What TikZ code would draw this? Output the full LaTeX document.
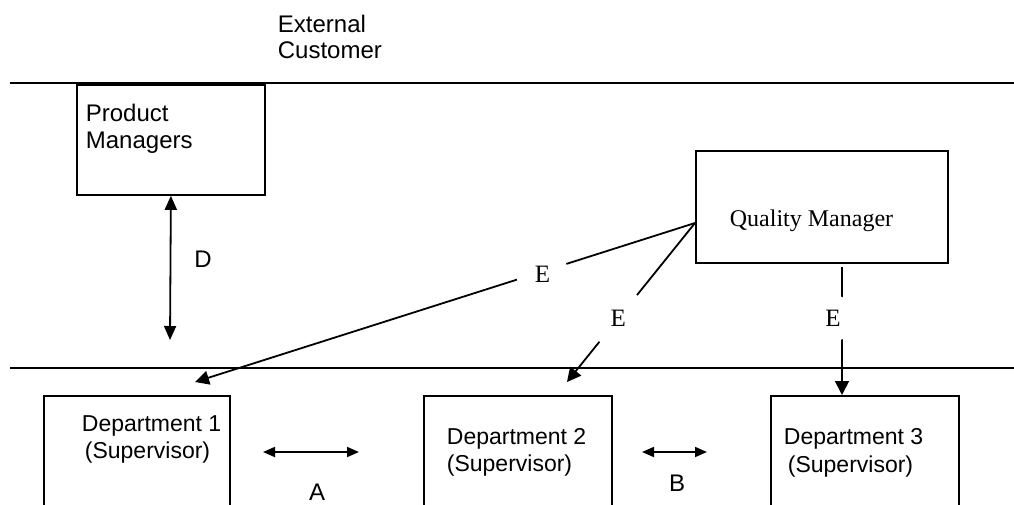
\documentclass[tikz,border=0pt]{standalone}
\usepackage{fontspec}
\setmainfont{Liberation Sans}
\newfontfamily\serifface{Liberation Serif}
\usetikzlibrary{arrows.meta}

\begin{document}
\begin{tikzpicture}[x=1pt,y=-1pt,line width=1.8pt,
  box/.style={draw,line width=1.8pt,anchor=north west,inner sep=0pt},
  txt/.style={anchor=base west,inner sep=0pt,font=\fontsize{24}{28}\selectfont},
  dtxt/.style={anchor=base west,inner sep=0pt,font=\fontsize{23}{27}\selectfont},
  stxt/.style={anchor=base,inner sep=0pt,font=\fontsize{24}{28}\selectfont},
  etxt/.style={circle,fill=white,inner sep=0pt,font=\serifface\fontsize{25}{28}\selectfont},
  bigtip/.style={-{Triangle[length=14pt,width=14pt]}},
  dbltip/.style={{Triangle[length=14pt,width=12pt]}-{Triangle[length=14pt,width=12pt]}},
  smalltip/.style={{Triangle[length=12pt,width=10pt]}-{Triangle[length=12pt,width=10pt]}}]

\path[use as bounding box] (0,0) rectangle (1014,504);
\clip (0,0) rectangle (1014,504);

% level separators
\coordinate (topL) at (10,83);
\coordinate (topR) at (1014,83);
\coordinate (botL) at (10,368);
\coordinate (botR) at (1014,368);
\draw (topL) -- (topR);
\draw (botL) -- (botR);

% external customer
\node[txt] (ext1) at (277,32) {External};
\node[txt] (ext2) at (277,58) {Customer};

% product managers
\node[box,minimum width=188pt,minimum height=110pt] (pm) at (76,84) {};
\node[txt] (pm1) at (85,121) {Product};
\node[txt] (pm2) at (85,148) {Managers};

% quality manager
\node[box,minimum width=252pt,minimum height=112pt] (qm) at (695,150) {};
\node[anchor=base west,inner sep=0pt,font=\serifface\fontsize{24}{28}\selectfont] (qmt) at (729,226) {Quality Manager};

% departments
\node[box,minimum width=186pt,minimum height=140pt] (d1) at (43,395) {};
\node[box,minimum width=188pt,minimum height=140pt] (d2) at (423,395) {};
\node[box,minimum width=188pt,minimum height=140pt] (d3) at (770,395) {};
\node[dtxt] (d1a) at (81,431) {Department 1};
\node[dtxt] (d1b) at (84,458) {(Supervisor)};
\node[dtxt] (d2a) at (446,444) {Department 2};
\node[dtxt] (d2b) at (446,471) {(Supervisor)};
\node[dtxt] (d3a) at (783,444) {Department 3};
\node[dtxt] (d3b) at (787,472) {(Supervisor)};

% D: product managers <-> departments
\coordinate (dEnd) at (170,340);
\draw[dbltip] (pm.south) -- (dEnd);
\node[stxt] (dlab) at (203,267) {D};

% E: quality manager -> departments
\coordinate (qmport) at (695,223);
\coordinate (e1tip) at (195,382);
\coordinate (e2tip) at (567,382);
\coordinate (e3start) at (842,267);
\draw[bigtip] (qmport) -- node[etxt,pos=0.305,minimum size=52pt,yshift=-3pt] (e1) {E} (e1tip);
\draw[bigtip] (qmport) -- node[etxt,pos=0.60,minimum size=60pt] (e2) {E} (e2tip);
\draw[bigtip] (e3start) -- node[etxt,pos=0.40,minimum size=46pt,xshift=-9pt] (e3) {E} (e3start |- d3.north);

% A and B: between departments
\coordinate (aL) at (263,452);
\coordinate (aR) at (359,452);
\coordinate (bL) at (642,452);
\coordinate (bR) at (707,452);
\draw[smalltip] (aL) -- (aR);
\draw[smalltip] (bL) -- (bR);
\node[stxt] (alab) at (317,500) {A};
\node[stxt] (blab) at (677,491) {B};

\end{tikzpicture}
\end{document}
